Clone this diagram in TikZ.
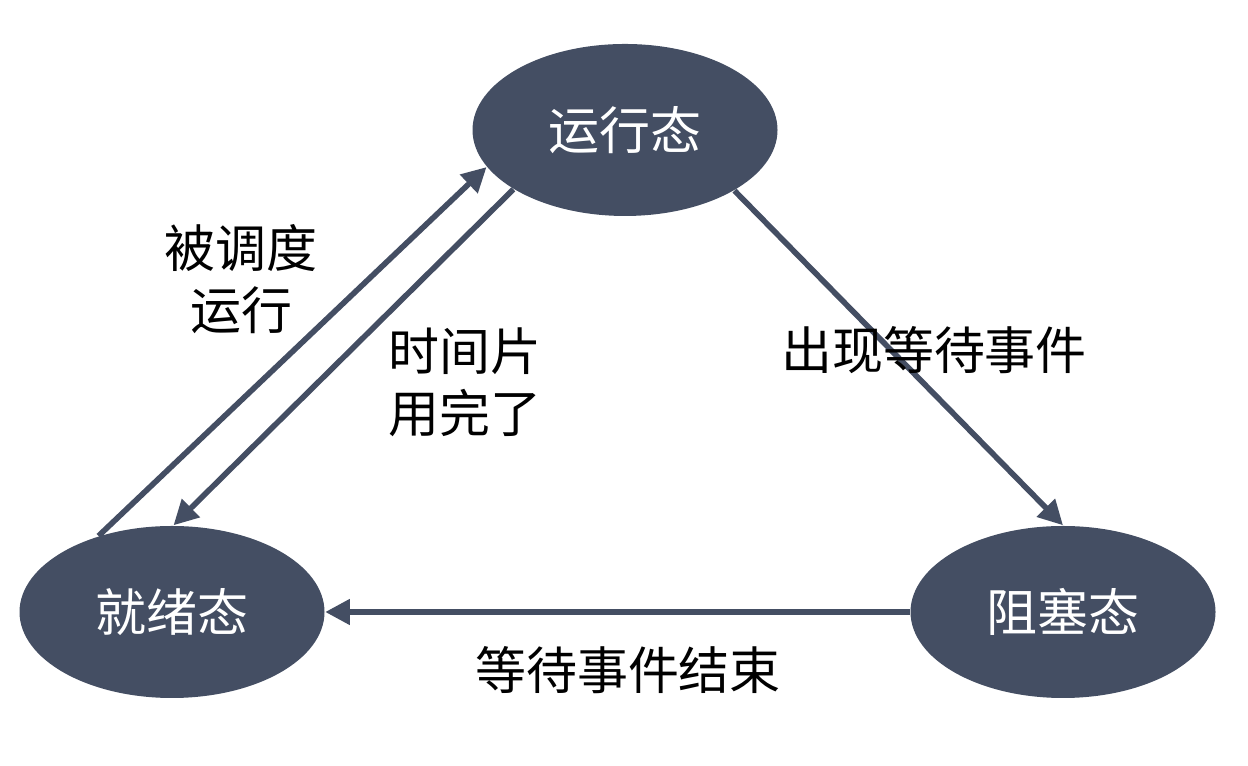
\documentclass[tikz,border=0pt]{standalone}
\usepackage{fontspec}
\newfontfamily\cjk{Noto Sans CJK SC}
\usetikzlibrary{shapes.geometric, arrows.meta}
\definecolor{slate}{RGB}{68,78,99}
\begin{document}
\begin{tikzpicture}[every node/.style={font=\cjk\fontsize{14.5pt}{17.6pt}\selectfont},
    state/.style={ellipse, fill=slate, draw=none, inner sep=0pt,
      minimum width=3.05cm, minimum height=1.72cm, text=white},
    trans/.style={draw=slate, line width=1.6pt,
      -{Triangle[length=7pt, width=7pt]}}]
  \useasboundingbox (0,0) rectangle (12.48,7.66);

  %% ---------- states ----------
  \node[state] (run)   at (6.25, 6.36) {运行态};
  \node[state] (ready) at (1.72, 1.54) {就绪态};
  \node[state] (block) at (10.63,1.54) {阻塞态};

  %% ---------- transitions ----------
  \draw[trans] (ready.134) -- (run.195);
  \draw[trans] (run.208) -- (ready.89);
  \draw[trans] (run.331) -- (block.north);
  \draw[trans] (block.west) -- (ready.east);

  %% ---------- labels ----------
  \node[align=center] (lsched) at (2.41, 4.87) {被调度\\运行};
  \node[align=center] (lslice) at (4.65, 3.84) {时间片\\用完了};
  \node (lwait) at (9.34, 4.16) {出现等待事件};
  \node (ldone) at (6.28, 0.96) {等待事件结束};
\end{tikzpicture}
\end{document}
